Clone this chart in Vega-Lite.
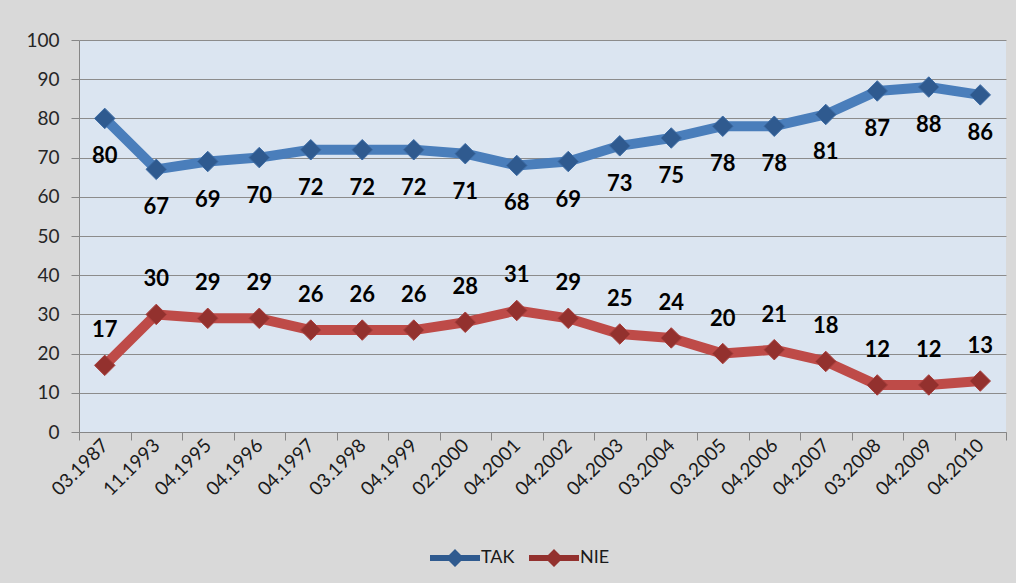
{
  "$schema": "https://vega.github.io/schema/vega-lite/v6.json",
  "width": 927,
  "height": 392,
  "autosize": {"type": "none"},
  "padding": {"left": 79, "top": 40, "right": 10, "bottom": 151},
  "background": "#d9d9d9",
  "config": {
    "view": {"fill": "#dbe5f1", "stroke": null},
    "font": "Lato"
  },
  "data": {
    "values": [
      {"date": "03.1987", "series": "TAK", "value": 80},
      {"date": "11.1993", "series": "TAK", "value": 67},
      {"date": "04.1995", "series": "TAK", "value": 69},
      {"date": "04.1996", "series": "TAK", "value": 70},
      {"date": "04.1997", "series": "TAK", "value": 72},
      {"date": "03.1998", "series": "TAK", "value": 72},
      {"date": "04.1999", "series": "TAK", "value": 72},
      {"date": "02.2000", "series": "TAK", "value": 71},
      {"date": "04.2001", "series": "TAK", "value": 68},
      {"date": "04.2002", "series": "TAK", "value": 69},
      {"date": "04.2003", "series": "TAK", "value": 73},
      {"date": "03.2004", "series": "TAK", "value": 75},
      {"date": "03.2005", "series": "TAK", "value": 78},
      {"date": "04.2006", "series": "TAK", "value": 78},
      {"date": "04.2007", "series": "TAK", "value": 81},
      {"date": "03.2008", "series": "TAK", "value": 87},
      {"date": "04.2009", "series": "TAK", "value": 88},
      {"date": "04.2010", "series": "TAK", "value": 86},
      {"date": "03.1987", "series": "NIE", "value": 17},
      {"date": "11.1993", "series": "NIE", "value": 30},
      {"date": "04.1995", "series": "NIE", "value": 29},
      {"date": "04.1996", "series": "NIE", "value": 29},
      {"date": "04.1997", "series": "NIE", "value": 26},
      {"date": "03.1998", "series": "NIE", "value": 26},
      {"date": "04.1999", "series": "NIE", "value": 26},
      {"date": "02.2000", "series": "NIE", "value": 28},
      {"date": "04.2001", "series": "NIE", "value": 31},
      {"date": "04.2002", "series": "NIE", "value": 29},
      {"date": "04.2003", "series": "NIE", "value": 25},
      {"date": "03.2004", "series": "NIE", "value": 24},
      {"date": "03.2005", "series": "NIE", "value": 20},
      {"date": "04.2006", "series": "NIE", "value": 21},
      {"date": "04.2007", "series": "NIE", "value": 18},
      {"date": "03.2008", "series": "NIE", "value": 12},
      {"date": "04.2009", "series": "NIE", "value": 12},
      {"date": "04.2010", "series": "NIE", "value": 13}
    ]
  },
  "encoding": {
    "x": {
      "field": "date",
      "type": "nominal",
      "sort": null,
      "scale": {"paddingInner": 0, "paddingOuter": 0},
      "axis": {
        "title": null,
        "labelAngle": -45,
        "labelAlign": "right",
        "labelBaseline": "middle",
        "labelFontSize": 19,
        "labelColor": "#1a1a1a",
        "labelPadding": 2,
        "tickBand": "extent",
        "tickSize": 8,
        "tickColor": "#868686",
        "domainColor": "#868686",
        "grid": false
      }
    },
    "y": {
      "field": "value",
      "type": "quantitative",
      "scale": {"domain": [0, 100], "nice": false},
      "axis": {
        "title": null,
        "values": [0, 10, 20, 30, 40, 50, 60, 70, 80, 90, 100],
        "grid": true,
        "gridColor": "#8c8c8c",
        "tickSize": 8,
        "tickColor": "#868686",
        "domainColor": "#868686",
        "labelFontSize": 19,
        "labelColor": "#262626",
        "labelPadding": 12
      }
    }
  },
  "layer": [
    {
      "mark": {"type": "line", "strokeWidth": 10, "strokeJoin": "round"},
      "encoding": {
        "color": {
          "field": "series",
          "type": "nominal",
          "scale": {"domain": ["TAK", "NIE"], "range": ["#4a7ebb", "#be4b48"]},
          "legend": {
            "title": null,
            "orient": "none",
            "direction": "horizontal",
            "legendX": 351,
            "legendY": 493,
            "symbolType": "M-1,-0.12L1,-0.12L1,0.12L-1,0.12Z M0,-0.36L0.36,0L0,0.36L-0.36,0Z",
            "symbolSize": 2500,
            "symbolStrokeWidth": 0,
            "labelFontSize": 18,
            "labelColor": "#1a1a1a",
            "labelOffset": 1,
            "columnPadding": 14,
            "encode": {
              "symbols": {
                "update": {
                  "fill": {"scale": "color", "field": "value"},
                  "stroke": {"value": "transparent"}
                }
              }
            }
          }
        }
      }
    },
    {
      "mark": {"type": "point", "shape": "diamond", "size": 420, "filled": true, "strokeWidth": 1, "opacity": 1},
      "encoding": {
        "fill": {
          "field": "series",
          "type": "nominal",
          "scale": {"domain": ["TAK", "NIE"], "range": ["#2f5a8f", "#93312e"]},
          "legend": null
        },
        "stroke": {
          "field": "series",
          "type": "nominal",
          "scale": {"domain": ["TAK", "NIE"], "range": ["#3d6ca5", "#a83f3c"]},
          "legend": null
        }
      }
    },
    {
      "transform": [{"filter": "datum.series === 'TAK'"}],
      "mark": {"type": "text", "dy": 38, "fontSize": 22, "fontWeight": "bold", "color": "#000000"},
      "encoding": {"text": {"field": "value", "type": "quantitative"}}
    },
    {
      "transform": [{"filter": "datum.series === 'NIE'"}],
      "mark": {"type": "text", "dy": -35, "fontSize": 22, "fontWeight": "bold", "color": "#000000"},
      "encoding": {"text": {"field": "value", "type": "quantitative"}}
    }
  ]
}
